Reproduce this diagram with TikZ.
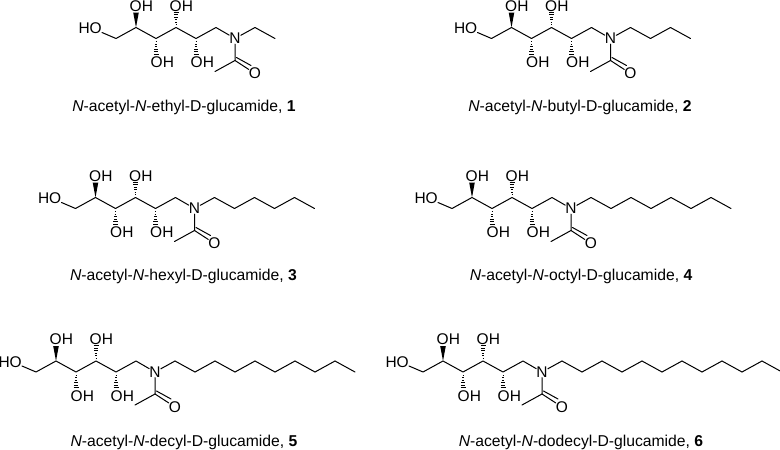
\documentclass[tikz,border=0pt]{standalone}
\usepackage{fontspec}
\setmainfont{Liberation Sans}
\usetikzlibrary{calc}
\tikzset{
  bond/.style={line width=1pt,line cap=round,line join=round},
  hashline/.style={line width=0.8pt},
  atom/.style={inner sep=0pt,font=\fontsize{15.5}{17}\selectfont},
  caption/.style={inner sep=0pt,font=\fontsize{15.7}{18}\selectfont}
}
\newcommand{\hashdown}[1]{%
  \foreach \k/\w in {3/0.5,5.5/0.9,8/1.3,10.5/1.7,13/2.1,15.5/2.5}{
    \draw[hashline] ($(#1)+(-\w,\k)$) -- ($(#1)+(\w,\k)$);}}
\newcommand{\hashup}[1]{%
  \foreach \k/\w in {3/0.5,5.5/0.9,8/1.3,10.5/1.7,13/2.1,15.5/2.5}{
    \draw[hashline] ($(#1)+(-\w,-\k)$) -- ($(#1)+(\w,-\k)$);}}
% #1 prefix, #2 x, #3 y, #4 chain carbons
\newcommand{\glucamide}[4]{%
\begin{scope}[shift={(#2,#3)}]
  \coordinate (#1c1) at (0,0);
  \coordinate (#1c2) at (20,-11);
  \coordinate (#1c3) at (40,0);
  \coordinate (#1c4) at (60,-11);
  \coordinate (#1c5) at (80,0);
  \coordinate (#1c6) at (100,-11);
  \coordinate (#1co) at (119,22);
  \coordinate (#1me) at (99,33);
  \coordinate (#1hoend) at (-14,-6);
  \node[atom,anchor=east] (#1ho) at (-14,-10) {HO};
  \node[atom] (#1n) at (119,0) {N};
  \node[atom] (#1o) at (139,35) {O};
  \node[atom,anchor=west] (#1oh2) at (13.5,-32.5) {OH};
  \node[atom,anchor=west] (#1oh4) at (53.5,-32.5) {OH};
  \node[atom,anchor=west] (#1oh3) at (34.5,24) {OH};
  \node[atom,anchor=west] (#1oh5) at (74.5,24) {OH};
  \draw[bond] (#1hoend) -- (#1c1) -- (#1c2) -- (#1c3) -- (#1c4) -- (#1c5) -- (#1c6) -- (#1n);
  \draw[bond] (#1n) -- (#1co) -- (#1me);
  \draw[bond] (#1co) -- (#1o);
  \draw[bond] ($(#1co)+(1.5,-3)$) -- ($(#1o)+(-4,-8)$);
  \fill (#1c2) -- ($(#1c2)+(-2.8,-15)$) -- ($(#1c2)+(2.8,-15)$) -- cycle;
  \hashup{#1c4}
  \hashdown{#1c3}
  \hashdown{#1c5}
  \coordinate (#1a0) at (119,0);
  \foreach \i in {1,...,#4}{
    \pgfmathsetmacro{\px}{119+20*\i}
    \pgfmathsetmacro{\py}{isodd(\i)?-11:0}
    \pgfmathtruncatemacro{\q}{\i-1}
    \coordinate (#1a\i) at (\px,\py);
    \ifnum\i=1
      \draw[bond] (#1n) -- (#1a1);
    \else
      \draw[bond] (#1a\q) -- (#1a\i);
    \fi
  }
\end{scope}}
\begin{document}
\begin{tikzpicture}[x=1pt,y=-1pt]
\useasboundingbox (0,0) rectangle (780,450);
\clip (0,0) rectangle (780,450);
\glucamide{m}{116}{38.5}{2}
\glucamide{b}{491.5}{38.5}{4}
\glucamide{h}{75.5}{208.5}{6}
\glucamide{k}{452}{208.5}{8}
\glucamide{d}{36}{372}{10}
\glucamide{u}{423}{372}{12}
\node[caption] (l1) at (184,107.7) {\textit{N}-acetyl-\textit{N}-ethyl-D-glucamide, \textbf{1}};
\node[caption] (l2) at (580,107.7) {\textit{N}-acetyl-\textit{N}-butyl-D-glucamide, \textbf{2}};
\node[caption] (l3) at (183.5,276) {\textit{N}-acetyl-\textit{N}-hexyl-D-glucamide, \textbf{3}};
\node[caption] (l4) at (581,276) {\textit{N}-acetyl-\textit{N}-octyl-D-glucamide, \textbf{4}};
\node[caption] (l5) at (184,442.7) {\textit{N}-acetyl-\textit{N}-decyl-D-glucamide, \textbf{5}};
\node[caption] (l6) at (581,442.7) {\textit{N}-acetyl-\textit{N}-dodecyl-D-glucamide, \textbf{6}};
\end{tikzpicture}
\end{document}
